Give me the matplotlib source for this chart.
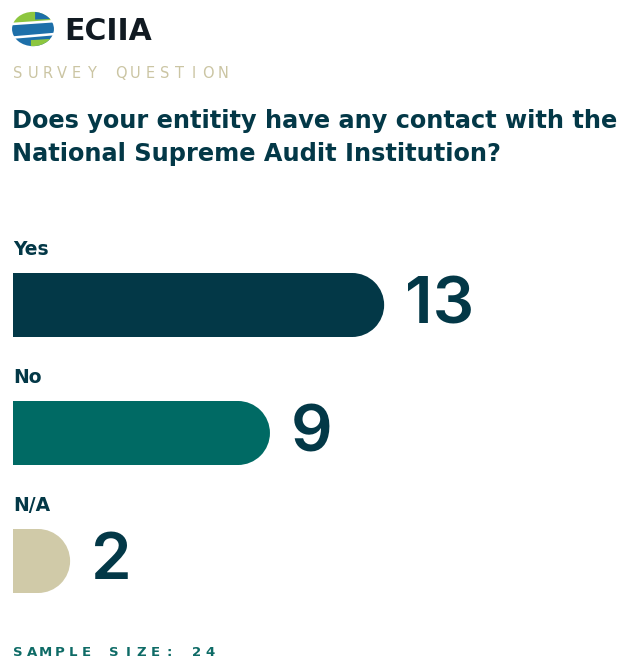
import matplotlib
matplotlib.use("Agg")
import matplotlib.pyplot as plt
from matplotlib.patches import Ellipse, Polygon, Circle
import numpy as np

categories = ["Yes", "No", "N/A"]
values = [13, 9, 2]
bar_colors = ["#033847", "#006A64", "#D0CAA8"]
title_lines = ["Does your entitity have any contact with the",
               "National Supreme Audit Institution?"]
kicker = "SURVEY QUESTION"
footer = "SAMPLE SIZE: 24"
brand = "ECIIA"

W, H = 623, 662
fig = plt.figure(figsize=(W / 100, H / 100), dpi=100)
fig.patch.set_facecolor("white")

def fx(x):
    return x / W

def fy(y):
    return 1 - y / H

DARK = "#033847"

# Logo
lax = fig.add_axes([fx(11), fy(47), fx(44), (36) / H])
lax.set_xlim(-1.05, 1.05)
lax.set_ylim(-1.05, 1.05)
lax.axis("off")
clip = Circle((0, 0), 1.0, transform=lax.transData)
bands = [
    ([(-1.2, 0.95), (1.2, 1.25), (1.2, 0.55), (-1.2, 0.35)], "#8DC63F"),
    ([(0.1, 1.2), (1.2, 1.3), (1.2, 0.6), (0.1, 0.55)], "#1D6FA9"),
    ([(-1.2, 0.2), (1.2, 0.4), (1.2, -0.2), (-1.2, -0.45)], "#1D6FA9"),
    ([(-1.2, -0.6), (1.2, -0.35), (1.2, -0.9), (-1.2, -1.2)], "#1D6FA9"),
    ([(-0.1, -0.65), (1.2, -0.55), (1.2, -1.2), (-0.1, -1.2)], "#8DC63F"),
]
for pts, c in bands:
    p = Polygon(pts, closed=True, facecolor=c, edgecolor="none")
    lax.add_patch(p)
    p.set_clip_path(clip)

fig.text(fx(64), fy(31), brand, fontsize=21.5, fontweight="bold", color="#111A22",
         va="center", ha="left", family="DejaVu Sans")

# Kicker (letter spaced)
step_k = (222 - 17) / (len(kicker) - 1)
for i, ch in enumerate(kicker):
    fig.text(fx(18 + i * step_k), fy(73), ch, fontsize=10.5, color="#CBC5A3",
             va="center", ha="center")

# Title
for j, line in enumerate(title_lines):
    fig.text(fx(12), fy(128 + j * 33), line, fontsize=17.3, color=DARK,
             va="baseline", ha="left", family="DejaVu Sans", fontweight="bold")

# Bars
px_per_unit = 28.55
ax = fig.add_axes([fx(13), fy(625), 600 / W, 448 / H])
ax.set_xlim(0, 600 / px_per_unit)
ax.set_ylim(2.5, -1.0)
ax.axis("off")

bar_h = 0.5
r_x = 32 / px_per_unit
ypos = np.arange(len(categories))
for i, (cat, v, c) in enumerate(zip(categories, values, bar_colors)):
    ax.barh(ypos[i], v - r_x + 0.02, height=bar_h, left=0, color=c, edgecolor="none")
    ax.add_patch(Ellipse((v - r_x, ypos[i]), 2 * r_x, bar_h, facecolor=c, edgecolor="none"))
    ax.text(0, ypos[i] - 0.43, cat, fontsize=13.5, fontweight="bold", color=DARK,
            va="center", ha="left")
    ax.text(v + 21 / px_per_unit, ypos[i] + 0.01, str(v), fontsize=47, color=DARK,
            va="center", ha="left", family=["Inter", "DejaVu Sans"], fontweight="semibold")

# Footer (letter spaced)
step_f = (210 - 18) / (len(footer) - 1)
for i, ch in enumerate(footer):
    fig.text(fx(18 + i * step_f), fy(652), ch, fontsize=9.5, color="#0E6B66",
             va="center", ha="center", fontweight="bold")

fig.savefig("out.png", dpi=100, facecolor="white")
